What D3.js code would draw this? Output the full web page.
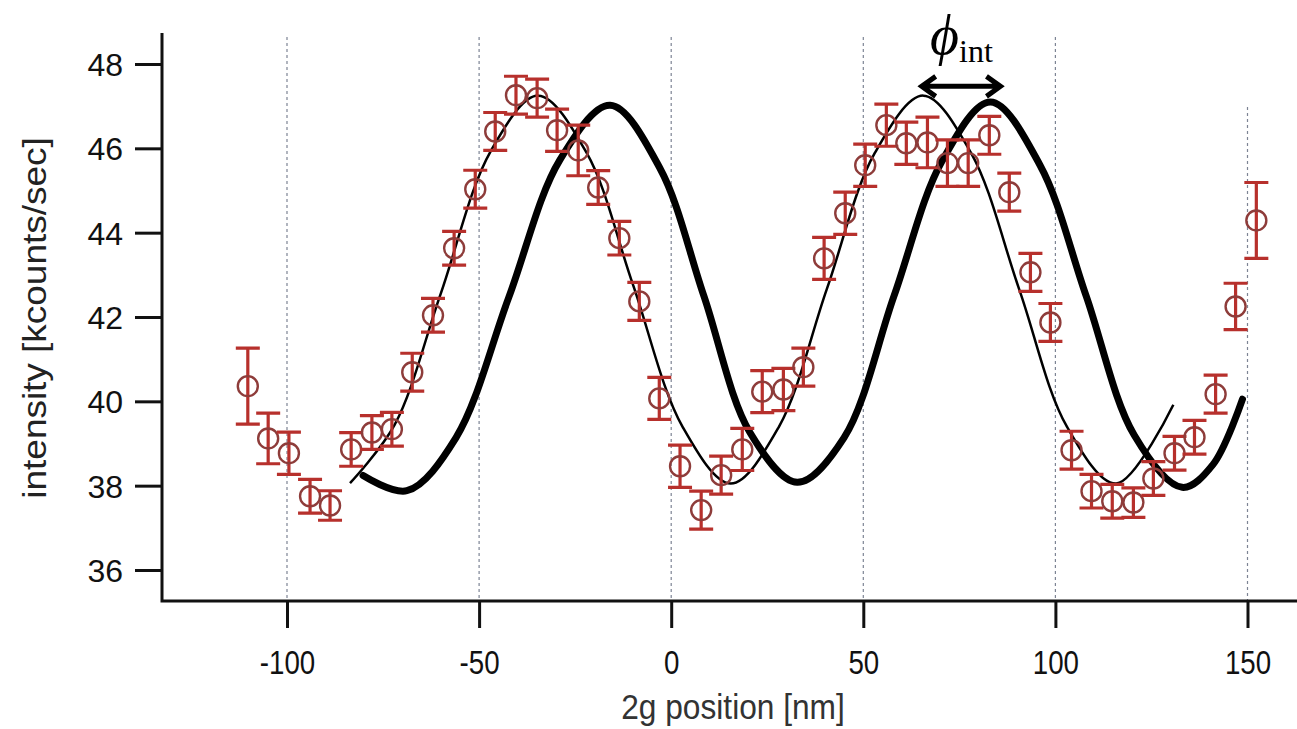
<!DOCTYPE html>
<html>
<head>
<meta charset="utf-8">
<script src="https://cdn.jsdelivr.net/npm/d3@7"></script>
<style>
  body { margin: 0; background: white; }
  svg { display: block; }
</style>
</head>
<body>
<div id="plot"></div>
<script>
// measured points (2g position in nm, intensity in kcounts/sec, error half-length)
var xPos = [-110.2, -104.9, -99.5, -94.0, -88.8, -83.3, -77.9, -72.7, -67.4, -62.0,
            -56.5, -51.0, -45.8, -40.4, -34.9, -29.7, -24.2, -19.0, -13.5, -8.3,
            -3.1, 2.3, 7.8, 13.0, 18.5, 23.7, 29.2, 34.4, 39.8, 45.3,
            50.5, 56.0, 61.2, 66.7, 71.9, 77.3, 82.8, 88.0, 93.5, 98.7,
            104.2, 109.4, 114.8, 120.3, 125.5, 131.0, 136.2, 141.7, 146.9, 152.3]
var intensity = [40.36, 39.12, 38.77, 37.75, 37.53, 38.86, 39.26, 39.34, 40.69, 42.04,
                 43.63, 45.03, 46.40, 47.26, 47.19, 46.43, 45.95, 45.07, 43.87, 42.37,
                 40.07, 38.46, 37.42, 38.25, 38.86, 40.23, 40.28, 40.81, 43.39, 44.46,
                 45.60, 46.55, 46.12, 46.14, 45.65, 45.65, 46.31, 44.96, 43.06, 41.87,
                 38.84, 37.87, 37.63, 37.60, 38.17, 38.77, 39.15, 40.17, 42.25, 44.29]
var errBar = [0.90, 0.60, 0.50, 0.40, 0.35, 0.40, 0.40, 0.40, 0.45, 0.40,
              0.40, 0.45, 0.45, 0.45, 0.45, 0.50, 0.60, 0.40, 0.40, 0.45,
              0.50, 0.50, 0.45, 0.45, 0.50, 0.50, 0.50, 0.45, 0.50, 0.50,
              0.50, 0.50, 0.50, 0.60, 0.55, 0.55, 0.45, 0.45, 0.45, 0.45,
              0.45, 0.40, 0.40, 0.35, 0.40, 0.40, 0.40, 0.45, 0.55, 0.90]

// thin fit curve
var fitX = [-83.6, -72, -60, -47, -34.6, -22, -10, 3, 15.5, 28,
            40.5, 53, 65.6, 78, 90.6, 103, 115.8, 130.7]
var fitY = [38.06, 39.44, 42.55, 45.93, 47.25, 45.89, 42.78, 39.39, 38.05, 39.39,
            42.66, 45.89, 47.25, 45.90, 42.65, 39.40, 38.05, 39.92]

// thick shifted curve
var shiftX = [-80.2, -68.8, -56, -42.3, -29, -15.9, -3, 8.5, 20.5, 32.8,
              45, 58, 70.5, 83.1, 96, 108, 120.5, 133, 141, 148.7]
var shiftY = [38.24, 37.88, 39.14, 42.46, 45.72, 47.02, 45.54, 42.50, 39.26, 38.08,
              39.14, 42.50, 45.70, 47.10, 45.60, 42.50, 39.20, 37.96, 38.50, 40.05]

var xTicks = [-100, -50, 0, 50, 100, 150]
var yTicks = [36, 38, 40, 42, 44, 46, 48]

// phase arrow ends (nm) and its height (kcounts/sec)
var arrowX = [65.2, 85.7]
var arrowY = 47.47

var w = 1297
var h = 729
var axisX = 162
var axisY = 601
var axisTop = 33
var red = "#b7302c"
var circleRed = "#8e3c3a"
var sans = "'Liberation Sans', Arial, sans-serif"

var svg = d3.select("#plot").append("svg")
    .attr("width", w).attr("height", h)

var xScale = d3.scaleLinear().domain([-100, 150]).range([287, 1247.5])
var yScale = d3.scaleLinear().domain([36, 48]).range([570, 64])

// dotted vertical grid
svg.append("g").selectAll("line")
    .data(xTicks)
    .enter()
    .append("line")
    .attr("x1", function(d) { return xScale(d) })
    .attr("x2", function(d) { return xScale(d) })
    .attr("y1", function(d) { return d == 150 ? 107 : 37 })
    .attr("y2", axisY)
    .attr("stroke", "#7d8494")
    .attr("stroke-width", 1.2)
    .attr("stroke-dasharray", "3,3")

// axes
var xAxis = d3.axisBottom(xScale).tickValues(xTicks).tickSize(27).tickSizeOuter(0)
    .tickFormat(function(d) { return String(d) })
var yAxis = d3.axisLeft(yScale).tickValues(yTicks).tickSize(27).tickSizeOuter(0)

var gx = svg.append("g")
    .attr("transform", "translate(0," + axisY + ")")
    .call(xAxis)
gx.select(".domain").remove()
gx.selectAll("line").attr("stroke", "#111").attr("stroke-width", 3)
gx.selectAll("text")
    .attr("y", 0)
    .attr("dy", 0)
    .attr("transform", "translate(0, 73) scale(0.84, 1)")
    .attr("text-anchor", "middle")
    .attr("font-size", 33)
    .attr("font-family", sans)
    .attr("fill", "#111")

var gy = svg.append("g")
    .attr("transform", "translate(" + axisX + ",0)")
    .call(yAxis)
gy.select(".domain").remove()
gy.selectAll("line").attr("stroke", "#111").attr("stroke-width", 3)
gy.selectAll("text")
    .attr("x", -39)
    .attr("dy", "0.36em")
    .attr("font-size", 32)
    .attr("font-family", sans)
    .attr("fill", "#111")

// frame lines
svg.append("path")
    .attr("d", "M" + axisX + "," + axisTop + "V" + axisY + "H" + w)
    .attr("fill", "none")
    .attr("stroke", "#111")
    .attr("stroke-width", 3)

// axis titles
svg.append("text")
    .attr("text-anchor", "middle")
    .text("2g position [nm]")
    .attr("transform", "translate(733, 719) scale(0.88, 1)")
    .attr("font-size", 36)
    .attr("font-family", sans)
    .attr("fill", "#333")

svg.append("text")
    .attr("text-anchor", "middle")
    .text("intensity [kcounts/sec]")
    .attr("transform", "translate(46, 318) rotate(-90) scale(1.12, 1)")
    .attr("font-size", 33)
    .attr("font-family", sans)
    .attr("fill", "#222")

// curves
var line = d3.line()
    .x(function(d) { return xScale(d[0]) })
    .y(function(d) { return yScale(d[1]) })
    .curve(d3.curveCatmullRom.alpha(0.5))

svg.append("path")
    .datum(d3.zip(shiftX, shiftY))
    .attr("d", line)
    .attr("fill", "none")
    .attr("stroke", "#000")
    .attr("stroke-width", 7)
    .attr("stroke-linecap", "round")

svg.append("path")
    .datum(d3.zip(fitX, fitY))
    .attr("d", line)
    .attr("fill", "none")
    .attr("stroke", "#000")
    .attr("stroke-width", 2.5)

// data points with error bars
var pts = d3.range(xPos.length).map(function(i) {
    return { x: xPos[i], y: intensity[i], e: errBar[i] }
})
var g = svg.append("g").selectAll("g")
    .data(pts)
    .enter()
    .append("g")

g.append("path")
    .attr("d", function(d) {
        var cx = xScale(d.x), top = yScale(d.y + d.e), bot = yScale(d.y - d.e)
        return "M" + (cx - 12) + "," + top + "H" + (cx + 12) +
            "M" + cx + "," + top + "V" + bot +
            "M" + (cx - 12) + "," + bot + "H" + (cx + 12)
    })
    .attr("fill", "none")
    .attr("stroke", red)
    .attr("stroke-width", 3.2)

g.append("circle")
    .attr("cx", function(d) { return xScale(d.x) })
    .attr("cy", function(d) { return yScale(d.y) })
    .attr("r", 10)
    .attr("fill", "none")
    .attr("stroke", circleRed)
    .attr("stroke-width", 2.4)

// phase shift annotation
var ax1 = xScale(arrowX[0]), ax2 = xScale(arrowX[1]), ay = yScale(arrowY)
svg.append("path")
    .attr("d", "M" + (ax1 + 3) + "," + ay + "H" + (ax2 - 3) +
        "M" + (ax1 + 14) + "," + (ay - 10) + "L" + ax1 + "," + ay + "L" + (ax1 + 14) + "," + (ay + 10) +
        "M" + (ax2 - 14) + "," + (ay - 10) + "L" + ax2 + "," + ay + "L" + (ax2 - 14) + "," + (ay + 10))
    .attr("fill", "none")
    .attr("stroke", "#000")
    .attr("stroke-width", 5)
    .attr("stroke-linejoin", "miter")

var phi = svg.append("text")
    .attr("x", 930)
    .attr("y", 54)
    .attr("font-family", "'Liberation Serif', 'DejaVu Serif', serif")
    .attr("fill", "#000")
phi.append("tspan")
    .text("\u03D5")
    .attr("font-style", "italic")
    .attr("font-size", 56)
phi.append("tspan")
    .text("int")
    .attr("dy", 8)
    .attr("dx", 0)
    .attr("font-size", 32)
</script>
</body>
</html>
